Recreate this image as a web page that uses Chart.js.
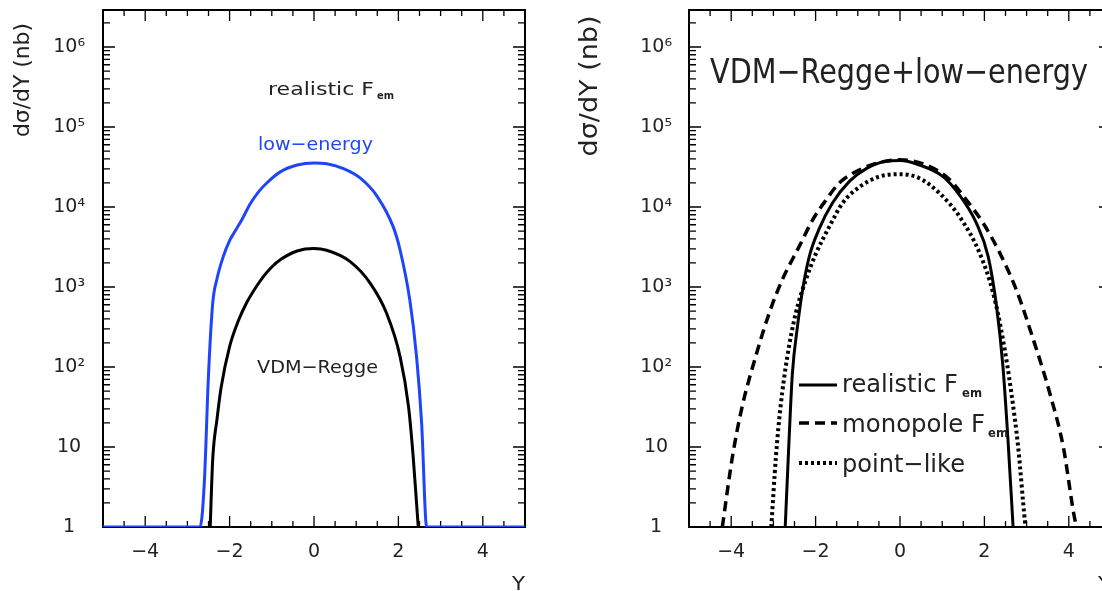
<!DOCTYPE html>
<html>
<head>
<meta charset="utf-8">
<script src="https://cdn.jsdelivr.net/npm/chart.js@4.4.1/dist/chart.umd.min.js"></script>
<style>
  html, body { margin: 0; padding: 0; background: #fff; overflow: hidden; width: 1102px; height: 591px; }
  canvas { position: absolute; top: 0; }
  #left { left: 0; }
  #right { left: 560px; }
</style>
</head>
<body>
<canvas id="left" width="560" height="591"></canvas>
<canvas id="right" width="600" height="591"></canvas>
<script>
/*global Chart*/
(function () {
  "use strict";

  // left panel: realistic F_em
  var lowY = [-5, -2.70, -2.60, -2.50, -2.40, -2.30, -2.15, -2.00, -1.90, -1.70, -1.50, -1.30, -1.10, -0.80, -0.40, 0,
    0.30, 0.70, 1.10, 1.50, 1.88, 2.04, 2.27, 2.43, 2.55, 2.67, 5];
  var lowVal = [1, 1, 3.5, 80, 630, 1260, 2400, 3800, 4700, 7100, 11200, 15800, 20400, 27500, 33500, 35500,
    34700, 30200, 22900, 13500, 5600, 2900, 690, 135, 20, 1, 1];
  var reggeY = [-2.46, -2.40, -2.30, -2.20, -2.00, -1.80, -1.60, -1.40, -1.20, -1.00, -0.80, -0.40, 0,
    0.30, 0.85, 1.33, 1.72, 2.04, 2.24, 2.35, 2.47];
  var reggeVal = [1, 7, 22, 56, 180, 370, 630, 950, 1350, 1780, 2190, 2820, 3020,
    2880, 2090, 1120, 470, 135, 32, 7.6, 1];

  // right panel: VDM-Regge + low-energy
  var realY = [-2.72, -2.63, -2.55, -2.43, -2.31, -2.15, -1.91, -1.60, -1.20, -0.80, -0.33, 0,
    0.46, 1.02, 1.41, 1.81, 2.09, 2.29, 2.44, 2.56, 2.68];
  var realVal = [1, 12, 83, 320, 910, 2400, 5400, 11200, 20900, 30200, 37200, 38000,
    33500, 24000, 14100, 6300, 2400, 560, 100, 12, 1];
  var monoY = [-4.21, -3.97, -3.74, -3.42, -3.10, -2.79, -2.39, -2.07, -1.75, -1.44, -1.12, -0.57, 0,
    0.60, 1.18, 1.57, 1.97, 2.37, 2.76, 3.16, 3.55, 3.87, 4.15, 4.20];
  var monoVal = [1, 7.6, 32, 135, 470, 1230, 3200, 6900, 12300, 20000, 26300, 35000, 38900,
    33900, 21900, 12300, 6300, 2630, 910, 220, 47, 10, 1.2, 1];
  var pointY = [-3.05, -2.94, -2.83, -2.67, -2.47, -2.23, -1.99, -1.68, -1.36, -0.96, -0.49, 0,
    0.46, 0.94, 1.41, 1.89, 2.21, 2.44, 2.64, 2.80, 2.96, 2.98];
  var pointVal = [1, 7.6, 32, 135, 470, 1230, 2630, 5600, 11200, 17800, 24000, 25700,
    22900, 14800, 7600, 2630, 830, 220, 47, 10, 1.2, 1];

  var xTicks = [-4, -2, 0, 2, 4];
  var yTicks = [1, 10, 100, 1e3, 1e4, 1e5, 1e6];
  var X_MIN = -5, X_MAX = 5, Y_MIN = 1, Y_MAX = 2.9e6;

  var FONT = "'DejaVu Sans', sans-serif";
  var BLUE = "#1f45fb";
  var INK = "#222";
  var SUP = "\u2070\u00b9\u00b2\u00b3\u2074\u2075\u2076\u2077\u2078\u2079";

  Chart.defaults.font.family = FONT;

  function pts(xs, ys) {
    return xs.map(function (x, i) { return {x: x, y: ys[i]}; });
  }

  function yLabel(v) {
    var e = Math.round(Math.log10(v));
    if (e === 0) { return "1"; }
    if (e === 1) { return "10"; }
    return "10" + SUP.charAt(e);
  }

  function xLabel(v) {
    return v < 0 ? "\u2212" + (-v) : String(v);
  }

  // text stretched/squeezed to the measured width of the reference
  function fitText(ctx, str, x, y, size, width, color, weight, rot) {
    ctx.save();
    ctx.font = (weight || "normal") + " " + size + "px " + FONT;
    ctx.fillStyle = color || INK;
    var w = ctx.measureText(str).width;
    ctx.translate(x, y);
    if (rot) {
      ctx.rotate(-Math.PI / 2);
      ctx.textAlign = "center";
      ctx.textBaseline = "middle";
    } else {
      ctx.textAlign = "left";
      ctx.textBaseline = "alphabetic";
    }
    ctx.scale(width / w, 1);
    ctx.fillText(str, 0, 0);
    ctx.restore();
  }

  var frame = {
    id: "frame",
    beforeDatasetsDraw: function (chart) {
      var ctx = chart.ctx, a = chart.chartArea,
        xs = chart.scales.x, ys = chart.scales.y, v, d, m, p, len;
      ctx.save();
      ctx.strokeStyle = "#000";
      ctx.lineWidth = 1.3;
      ctx.beginPath();
      for (v = X_MIN; v <= X_MAX; v += 0.5) {
        p = xs.getPixelForValue(v);
        len = (v % 2 === 0) ? 11 : 6;
        ctx.moveTo(p, a.bottom);
        ctx.lineTo(p, a.bottom - len);
        ctx.moveTo(p, a.top);
        ctx.lineTo(p, a.top + len);
      }
      for (d = 1; d <= Y_MAX; d *= 10) {
        for (m = 1; m <= 9; m += 1) {
          v = m * d;
          if (v > Y_MAX) { break; }
          p = ys.getPixelForValue(v);
          len = m === 1 ? 12 : 7;
          ctx.moveTo(a.left, p);
          ctx.lineTo(a.left + len, p);
          ctx.moveTo(a.right, p);
          ctx.lineTo(a.right - len, p);
        }
      }
      ctx.stroke();
      ctx.lineWidth = 2;
      ctx.strokeRect(a.left, a.top, a.right - a.left, a.bottom - a.top);
      ctx.restore();
    }
  };

  function makeChart(id, axisWidth, padRight, labelPad, datasets, decorate) {
    return new Chart(document.getElementById(id), {
      type: "line",
      data: {datasets: datasets},
      options: {
        responsive: false,
        animation: false,
        events: [],
        layout: {padding: {left: 0, right: padRight, top: 10, bottom: 0}},
        plugins: {legend: {display: false}, tooltip: {enabled: false}},
        elements: {point: {radius: 0}, line: {cubicInterpolationMode: "monotone", borderCapStyle: "butt"}},
        scales: {
          x: {
            type: "linear",
            min: X_MIN,
            max: X_MAX,
            grid: {display: false, drawTicks: false},
            border: {display: false},
            ticks: {
              autoSkip: false,
              padding: 14,
              color: INK,
              font: {size: 19},
              callback: xLabel
            },
            afterBuildTicks: function (s) {
              s.ticks = xTicks.map(function (v) { return {value: v}; });
            },
            afterFit: function (s) {
              s.height = 64;
              s.paddingLeft = 0;
              s.paddingRight = 0;
            }
          },
          y: {
            type: "logarithmic",
            min: Y_MIN,
            max: Y_MAX,
            grid: {display: false, drawTicks: false},
            border: {display: false},
            ticks: {
              autoSkip: false,
              crossAlign: "center",
              padding: labelPad,
              color: INK,
              font: {size: 19},
              callback: yLabel
            },
            afterBuildTicks: function (s) {
              s.ticks = yTicks.map(function (v) { return {value: v}; });
            },
            afterFit: function (s) {
              s.width = axisWidth;
              s.paddingTop = 0;
              s.paddingBottom = 0;
            }
          }
        }
      },
      plugins: [frame, {id: "texts", afterDraw: decorate}]
    });
  }

  makeChart("left", 103, 35, 18, [
    {data: pts(lowY, lowVal), borderColor: BLUE, borderWidth: 3},
    {data: pts(reggeY, reggeVal), borderColor: "#000", borderWidth: 3}
  ], function (chart) {
    var ctx = chart.ctx, a = chart.chartArea;
    fitText(ctx, "d\u03c3/dY (nb)", 24, 80, 21, 114, INK, "normal", true);
    fitText(ctx, "Y", a.right - 13, 590, 20, 13, INK);
    fitText(ctx, "realistic F", 268, 95, 18.5, 106, INK);
    fitText(ctx, "em", 377, 99, 11, 17, INK, "bold");
    fitText(ctx, "low\u2212energy", 258, 150, 18.5, 115, BLUE);
    fitText(ctx, "VDM\u2212Regge", 257, 373, 18.5, 121, INK);
  });

  makeChart("right", 129, 49, 17, [
    {data: pts(realY, realVal), borderColor: "#000", borderWidth: 3},
    {data: pts(monoY, monoVal), borderColor: "#000", borderWidth: 3.5, borderDash: [10, 6]},
    {data: pts(pointY, pointVal), borderColor: "#000", borderWidth: 4, borderDash: [3, 3]}
  ], function (chart) {
    var ctx = chart.ctx, a = chart.chartArea, ds = chart.data.datasets,
      rows = [
        {y: 385, base: 392, text: "realistic F", w: 116, sub: 402, subW: 20},
        {y: 423, base: 432, text: "monopole F", w: 143, sub: 428, subW: 20},
        {y: 463, base: 472, text: "point\u2212like", w: 123}
      ];
    fitText(ctx, "d\u03c3/dY (nb)", 31, 86, 24, 141, INK, "normal", true);
    fitText(ctx, "Y", a.right - 13, 590, 20, 13, INK);
    fitText(ctx, "VDM\u2212Regge+low\u2212energy", 150, 83, 34, 378, INK);
    rows.forEach(function (r, i) {
      ctx.save();
      ctx.strokeStyle = "#000";
      ctx.lineWidth = ds[i].borderWidth;
      ctx.setLineDash(ds[i].borderDash || []);
      ctx.beginPath();
      ctx.moveTo(239, r.y);
      ctx.lineTo(277, r.y);
      ctx.stroke();
      ctx.restore();
      fitText(ctx, r.text, 282, r.base, 25, r.w, INK);
      if (r.sub) {
        fitText(ctx, "em", r.sub, r.base + 5, 13, r.subW, INK, "bold");
      }
    });
  });
}());
</script>
</body>
</html>
